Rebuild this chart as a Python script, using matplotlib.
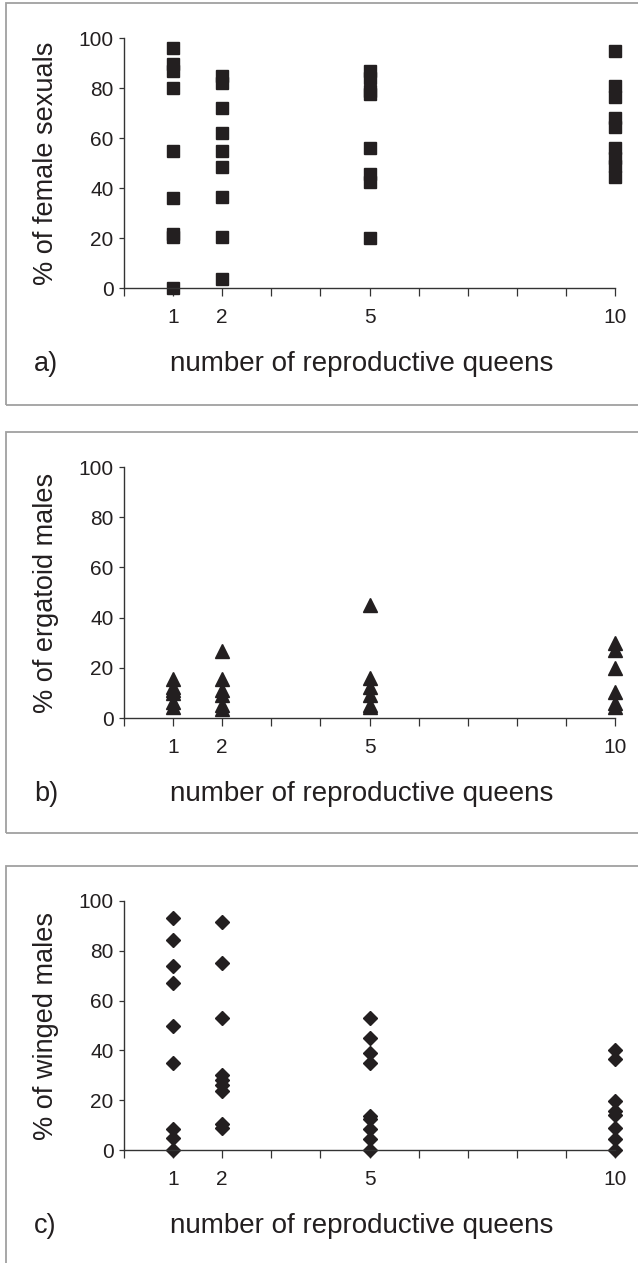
import matplotlib.pyplot as plt
from matplotlib.patches import Rectangle

plt.rcParams['font.family'] = ['Liberation Sans', 'DejaVu Sans']

queens = [1, 2, 5, 10]
xtick_labels = ['', '1', '2', '', '', '5', '', '', '', '', '10']

# a) % of female sexuals
female_q1 = [96, 89.5, 87, 80, 55, 36, 21.5, 20.5, 0]
female_q2 = [85, 82, 72, 62, 55, 48.5, 36.5, 20.5, 3.5]
female_q5 = [87, 84, 79, 77.5, 56, 45.5, 42.5, 20]
female_q10 = [95, 81, 76.5, 68, 64.5, 56, 52, 49, 44.5]

# b) % of ergatoid males
ergatoid_q1 = [15.5, 12.5, 11, 10, 6.5, 4.5]
ergatoid_q2 = [26.5, 15.5, 11, 9, 5, 3.5]
ergatoid_q5 = [45, 16, 12.5, 9, 5, 4.5]
ergatoid_q10 = [30, 27, 20, 10.5, 6, 4.5]

# c) % of winged males
winged_q1 = [93, 84.5, 74, 67, 50, 35, 8.5, 5, 0]
winged_q2 = [91.5, 75, 53, 30, 28, 26, 23.5, 10.5, 9]
winged_q5 = [53, 45, 39, 35, 13.5, 12.5, 8.5, 4.5, 0]
winged_q10 = [40, 36.5, 19.5, 15.5, 14, 9, 4.5, 0]

ink = '#231f20'
W, H = 638, 1263
fig = plt.figure(figsize=(W / 100, H / 100), dpi=100)

panels = [
    # (groups, ylabel, letter, marker, size, y of 0, y of 100, frame top, frame bottom)
    ([female_q1, female_q2, female_q5, female_q10], '% of female sexuals', 'a)', 's', 8.7, 288, 38, 3, 405),
    ([ergatoid_q1, ergatoid_q2, ergatoid_q5, ergatoid_q10], '% of ergatoid males', 'b)', '^', 9.5, 718, 467, 432, 833),
    ([winged_q1, winged_q2, winged_q5, winged_q10], '% of winged males', 'c)', 'D', 6.8, 1150, 901, 866, 1300),
]

x_left, x_right = 124, 615
for groups, ylab, letter, mk, ms, y0, y100, ftop, fbot in panels:
    # grey frame round each panel (right side runs off the picture)
    fig.patches.append(Rectangle((6 / W, 1 - fbot / H), 700 / W, (fbot - ftop) / H,
                                 transform=fig.transFigure, fill=False,
                                 edgecolor='#a0a0a0', linewidth=1.3))

    ax = fig.add_axes([x_left / W, 1 - y0 / H, (x_right - x_left) / W, (y0 - y100) / H])
    for q, vals in zip(queens, groups):
        ax.plot([q] * len(vals), vals, linestyle='none', marker=mk, markersize=ms,
                color=ink, markeredgecolor=ink, clip_on=False)

    ax.set_xlim(0, 10)
    ax.set_ylim(0, 100)
    ax.set_xticks(range(11))
    ax.set_xticklabels(xtick_labels)
    ax.set_yticks(range(0, 101, 20))
    for side in ['top', 'right']:
        ax.spines[side].set_visible(False)
    for side in ['left', 'bottom']:
        ax.spines[side].set_color('#333333')
        ax.spines[side].set_linewidth(1.0)
    ax.tick_params(axis='x', direction='out', length=5.5, width=0.9, pad=9,
                   labelsize=15, colors='#333333', labelcolor=ink)
    ax.tick_params(axis='y', direction='out', length=3.5, width=0.9, pad=4,
                   labelsize=15, colors='#333333', labelcolor=ink)

    fig.text(46 / W, 1 - (y0 + y100) / 2 / H, ylab, rotation=90, ha='center',
             va='center', fontsize=19.5, color=ink)
    fig.text(362 / W, 1 - (y0 + 76) / H, 'number of reproductive queens', ha='center',
             va='center', fontsize=20, color=ink)
    fig.text(34 / W, 1 - (y0 + 76) / H, letter, ha='left', va='center',
             fontsize=19.5, color=ink)

fig.savefig('out.png', dpi=100)
